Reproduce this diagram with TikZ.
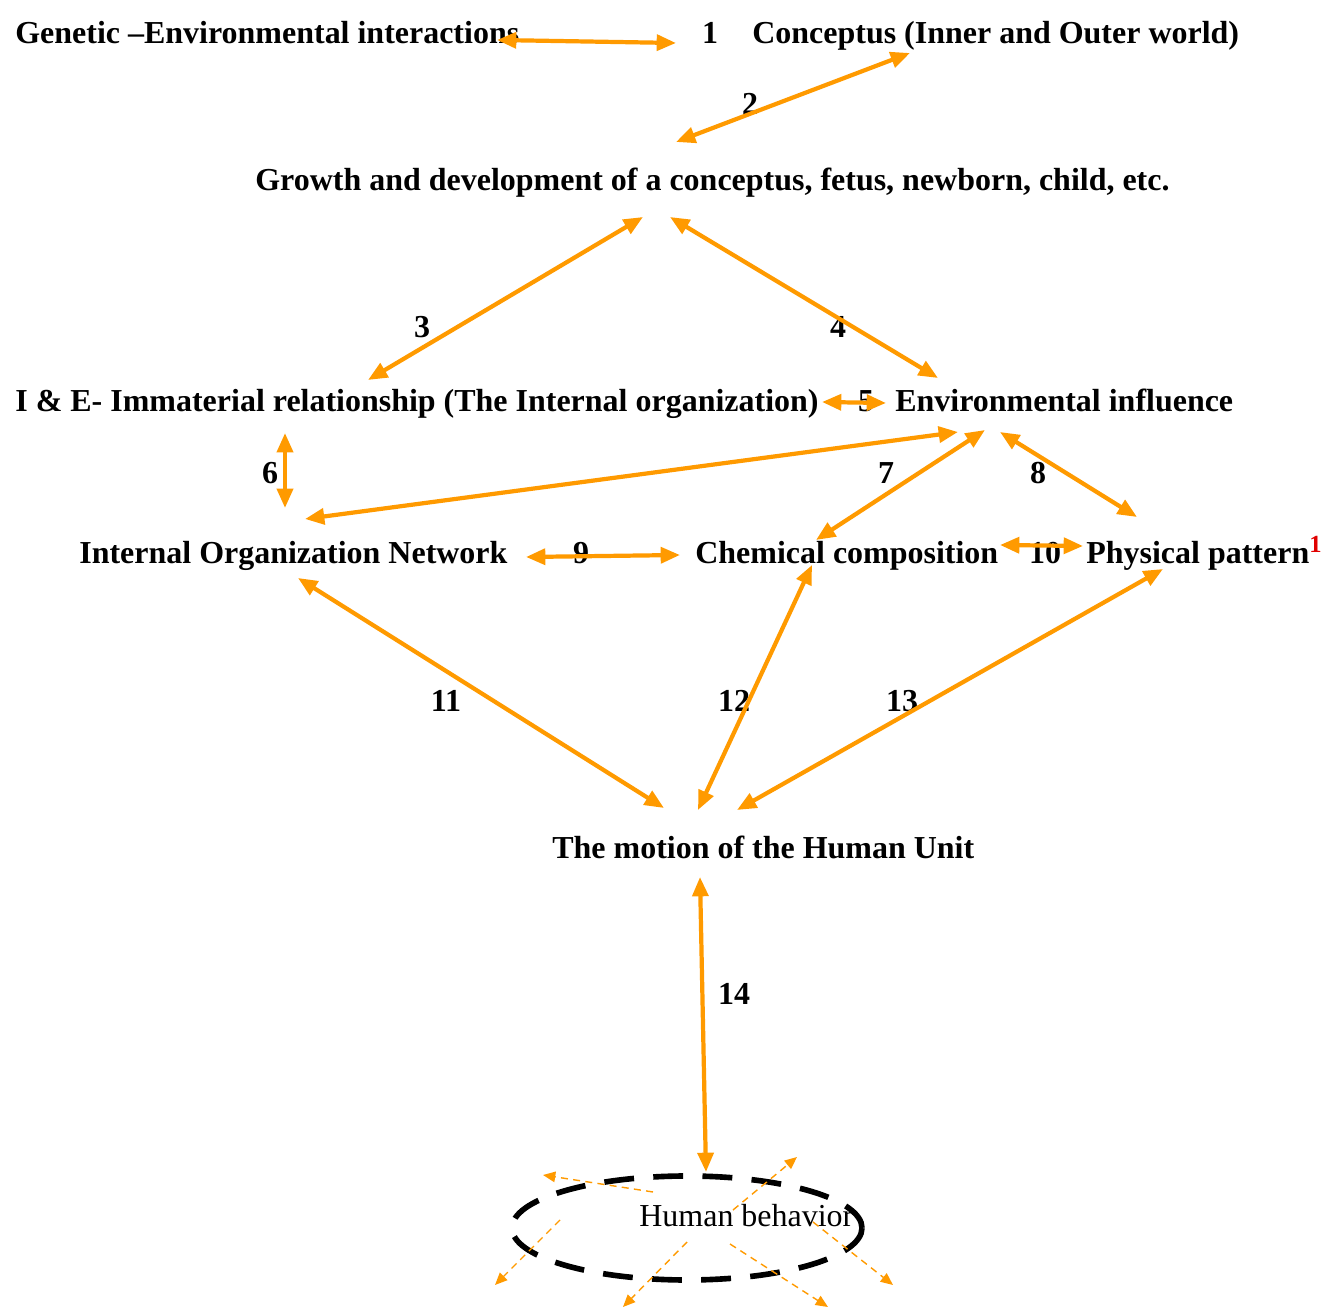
\documentclass[tikz,border=0pt]{standalone}
\usepackage{fontspec}
\setmainfont{Liberation Serif}
\usetikzlibrary{arrows.meta}
\definecolor{amber}{HTML}{FF9A00}
\definecolor{red}{HTML}{E00000}

\begin{document}
\begin{tikzpicture}[x=0.02cm,y=-0.02cm,
    txt/.style={font=\fontsize{18.2}{21}\selectfont,inner sep=0pt,text height=7pt,text depth=2.5pt,yshift=-2pt},
    lbl/.style={txt,font=\fontsize{18.2}{21}\selectfont\bfseries,anchor=west},
    num/.style={txt,font=\fontsize{18.2}{21}\selectfont\bfseries},
    link/.style={draw=amber,line width=2.4pt,{Triangle[length=11pt,width=9pt]}-{Triangle[length=11pt,width=9pt]}},
    spark/.style={draw=amber,line width=0.8pt,dash pattern=on 4pt off 3pt,-{Triangle[length=7pt,width=6pt]}}]
  \useasboundingbox (0,0) rectangle (1323,1310);
  \node[lbl] (gen) at (15,36) {Genetic --Environmental interactions};
  \node[lbl] (concep) at (752,36) {Conceptus (Inner and Outer world)};
  \node[lbl] (growth) at (255,183) {Growth and development of a conceptus, fetus, newborn, child, etc.};
  \node[lbl] (imm) at (15,404) {I \& E- Immaterial relationship (The Internal organization)};
  \node[lbl] (env) at (895,404) {Environmental influence};
  \node[lbl] (ion) at (79,556) {Internal Organization Network};
  \node[lbl] (chem) at (695,556) {Chemical composition};
  \node[lbl] (phys) at (1086,556) {Physical pattern\textsuperscript{\color{red}\fontsize{14}{14}\selectfont 1}};
  \node[lbl] (motion) at (552,851) {The motion of the Human Unit};
  \draw[line width=3.2pt,dash pattern=on 17pt off 11pt] (687,1228) ellipse [x radius=175,y radius=52];
  \node[txt,anchor=west] (human) at (639,1219) {Human behavior};

  \node[num] (n1) at (710,36) {1};
  \node[num] (n2) at (750,107) {2};
  \node[num] (n3) at (422,330) {3};
  \node[num] (n4) at (838,330) {4};
  \node[num] (n5) at (866,404) {5};
  \node[num] (n6) at (270,476) {6};
  \node[num] (n7) at (886,476) {7};
  \node[num] (n8) at (1038,476) {8};
  \node[num] (n9) at (581,556) {9};
  \node[num] (n10) at (1045,556) {10};
  \node[num] (n11) at (446,704) {11};
  \node[num] (n12) at (734,704) {12};
  \node[num] (n13) at (902,704) {13};
  \node[num] (n14) at (734,997) {14};

  \coordinate (genR) at (497,40);   \coordinate (oneL) at (676,43);
  \coordinate (conB) at (910,53);   \coordinate (groT) at (676,142);
  \coordinate (groL) at (643,217);  \coordinate (immT) at (368,380);
  \coordinate (groR) at (670,217);  \coordinate (envT) at (938,378);
  \coordinate (immR) at (822,402);  \coordinate (envL) at (886,403);
  \coordinate (immB) at (285,433);  \coordinate (ionT) at (285,508);
  \coordinate (envA) at (958,432);  \coordinate (ionR) at (305,519);
  \coordinate (envB) at (985,430);  \coordinate (chemT) at (816,540);
  \coordinate (envC) at (1000,432); \coordinate (physT) at (1137,517);
  \coordinate (ionE) at (526,557);  \coordinate (chemW) at (680,555);
  \coordinate (chemE) at (1000,545); \coordinate (physW) at (1083,546);
  \coordinate (ionB) at (298,578);  \coordinate (motA) at (664,808);
  \coordinate (chemB) at (812,565); \coordinate (motB) at (698,810);
  \coordinate (physB) at (1163,569); \coordinate (motC) at (737,810);
  \coordinate (motD) at (700,877);  \coordinate (humT) at (706,1172);

  \draw[link] (genR) -- (oneL);
  \draw[link] (conB) -- (groT);
  \draw[link] (groL) -- (immT);
  \draw[link] (groR) -- (envT);
  \draw[link] (immR) -- (envL);
  \draw[link] (immB) -- (ionT);
  \draw[link] (envA) -- (ionR);
  \draw[link] (envB) -- (chemT);
  \draw[link] (envC) -- (physT);
  \draw[link] (ionE) -- (chemW);
  \draw[link] (chemE) -- (physW);
  \draw[link] (ionB) -- (motA);
  \draw[link] (chemB) -- (motB);
  \draw[link] (physB) -- (motC);
  \draw[link] (motD) -- (humT);

  \draw[spark] (653,1192) -- (543,1175);
  \draw[spark] (733,1210) -- (797,1157);
  \draw[spark] (560,1220) -- (495,1285);
  \draw[spark] (687,1242) -- (623,1307);
  \draw[spark] (730,1244) -- (828,1307);
  \draw[spark] (813,1222) -- (893,1285);
\end{tikzpicture}
\end{document}
